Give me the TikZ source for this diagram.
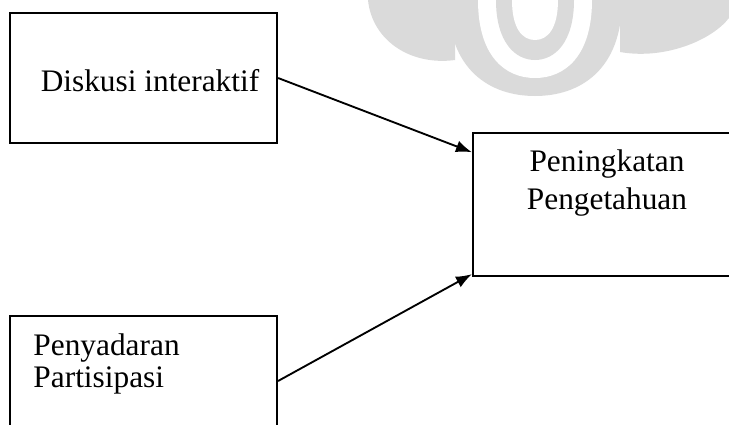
\documentclass[tikz,border=0pt]{standalone}
\usepackage{fontspec}
\setmainfont{Liberation Serif}
\usetikzlibrary{arrows.meta,calc}

\tikzset{every picture/.style={line width=0.75pt}}
\tikzset{
  varbox/.style={draw, line width=1.6pt, minimum width=200.25pt, minimum height=97.5pt, inner sep=0pt},
  vartext/.style={font=\fontsize{23.5}{28.5}\selectfont, align=center, inner sep=0pt},
  effect/.style={-{Latex[length=12pt,width=9pt]}, line width=1.4pt},
  watermark/.style={fill={rgb, 255:red, 218; green, 218; blue, 218 }}
}

\begin{document}
\begin{tikzpicture}[x=0.75pt,y=0.75pt,yscale=-1,xscale=1]
			\clip (0,0) rectangle (729,425);
			\useasboundingbox (0,0) rectangle (729,425);

			%Watermark: left lobe
			\fill [watermark] (368,0) .. controls (372,40) and (410,66) .. (455,60) -- (455,0) -- cycle ;
			%Watermark: right lobe
			\fill [watermark] (620,0) -- (620,52) .. controls (665,60) and (712,40) .. (729,18) -- (729,0) -- cycle ;
			%Watermark: centre
			\fill [watermark] (448,0) .. controls (448,70) and (490,96) .. (535,96) .. controls (580,96) and (622,70) .. (622,0) -- cycle ;
			\fill [white] (478,0) .. controls (478,56) and (505,78) .. (535,78) .. controls (565,78) and (592,56) .. (592,0) -- cycle ;
			\fill [watermark] (496,0) .. controls (496,42) and (515,60) .. (535,60) .. controls (555,60) and (574,42) .. (574,0) -- cycle ;
			\fill [white] (512,0) .. controls (512,28) and (522,40) .. (535,40) .. controls (548,40) and (558,28) .. (558,0) -- cycle ;

			%Shape: Rectangle [id:diskusi]
			\node [varbox] (diskusi) at (143.5,78) {};
			\node [vartext] (diskusiTxt) at (150,81) {Diskusi interaktif};
			%Shape: Rectangle [id:peningkatan]
			\node [varbox, minimum width=201pt, minimum height=107.25pt] (peningkatan) at (607,204.5) {};
			\node [vartext, anchor=north] (peningkatanTxt) at (607,149) {Peningkatan\\Pengetahuan};
			%Shape: Rectangle [id:penyadaran]
			\node [varbox] (penyadaran) at (143.5,381) {};
			\node [vartext, font=\fontsize{23.5}{24}\selectfont, align=left, anchor=north west] (penyadaranTxt) at (33,333) {Penyadaran\\Partisipasi};

			%Straight Lines [id:arrow1]
			\coordinate (in1) at ($(peningkatan.north west)!0.14!(peningkatan.south west)$) ;
			\draw [effect] (diskusi.east) -- (in1) ;
			%Straight Lines [id:arrow2]
			\coordinate (in2) at ($(peningkatan.north west)!0.98!(peningkatan.south west)$) ;
			\draw [effect] (penyadaran.east) -- (in2) ;
		\end{tikzpicture}
\end{document}
